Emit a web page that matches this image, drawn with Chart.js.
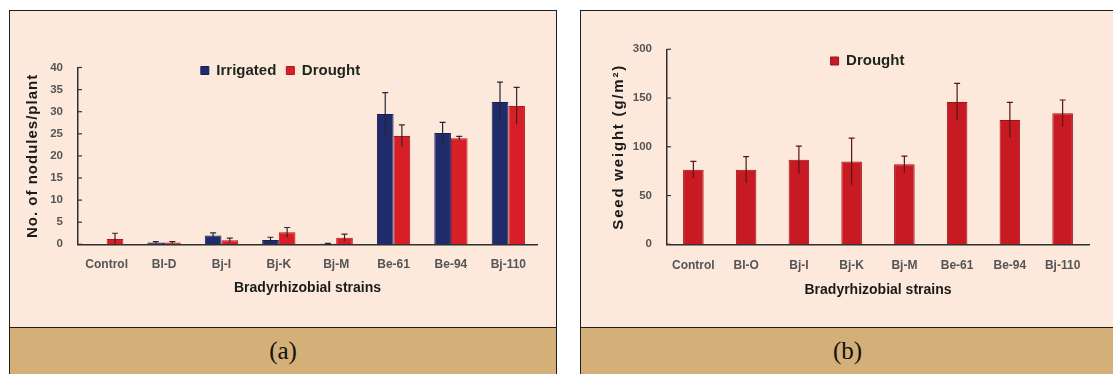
<!DOCTYPE html>
<html>
<head>
<meta charset="utf-8">
<script src="https://cdn.jsdelivr.net/npm/chart.js@4.4.1/dist/chart.umd.min.js"></script>
<style>
  html, body { margin: 0; padding: 0; background: #ffffff; width: 1113px; height: 374px; overflow: hidden; }
  .panel { position: absolute; box-sizing: border-box; background: #fde9dc; border: 1.5px solid #1e1e1e; }
  .band { position: absolute; box-sizing: border-box; background: #d4af78; border: 1.5px solid #1e1e1e;
          font-family: 'Liberation Serif', 'Times New Roman', serif; font-size: 25px; color: #111;
          text-align: center; line-height: 46px; }
  canvas { position: absolute; }
</style>
</head>
<body>
<div class="panel" style="left:9px;top:10px;width:548px;height:380px"></div>
<div class="band" style="left:9px;top:327px;width:548px;height:60px">(a)</div>
<div class="panel" style="left:580px;top:10px;width:535px;height:380px"></div>
<div class="band" style="left:580px;top:327px;width:535px;height:60px">(b)</div>
<canvas id="nodules" width="545" height="315" style="left:10px;top:12px;width:545px;height:315px"></canvas>
<canvas id="seed" width="531" height="315" style="left:582px;top:12px;width:531px;height:315px"></canvas>

<script>
// ---- data ----
const nodStrains = ['Control', 'BI-D', 'Bj-I', 'Bj-K', 'Bj-M', 'Be-61', 'Be-94', 'Bj-110'];
const irrigatedNodules = [0, 0.4, 2.0, 1.0, 0.1, 29.5, 25.2, 32.2];
const irrigatedNodulesErr = [0, 0.2, 0.6, 0.6, 0.1, 4.8, 2.4, 4.5];
const droughtNodules = [1.2, 0.4, 0.9, 2.7, 1.5, 24.5, 24.0, 31.3];
const droughtNodulesErr = [1.3, 0.2, 0.5, 1.1, 0.8, 2.5, 0.4, 4.2];
const nodTickLabels = ['0', '5', '10', '15', '20', '25', '30', '35', '40'];

const seedStrains = ['Control', 'BI-O', 'Bj-I', 'Bj-K', 'Bj-M', 'Be-61', 'Be-94', 'Bj-110'];
const droughtSeed = [76.5, 76.5, 86.7, 85, 82, 146, 127.5, 134.3];
const droughtSeedErr = [8.5, 13.5, 14, 24, 8.5, 19, 18, 13.7];
const seedTickLabels = ['0', '50', '100', '150', '300'];

const FONT = "'Liberation Sans', Arial, Helvetica, sans-serif";

// ---- plugins ----
// symmetric error bars with a cap at the upper end
const errorBars = {
  id: 'errorBars',
  afterDatasetsDraw(chart, args, opts) {
    const ctx = chart.ctx;
    const y = chart.scales.y;
    chart.data.datasets.forEach((ds, di) => {
      if (!ds.errors) return;
      const meta = chart.getDatasetMeta(di);
      meta.data.forEach((bar, i) => {
        const v = ds.data[i], e = ds.errors[i];
        if (!e) return;
        const top = y.getPixelForValue(v + e);
        const bot = y.getPixelForValue(Math.max(0, v - e));
        ctx.save();
        ctx.strokeStyle = ds.errorColor || '#333';
        ctx.lineWidth = 1.2;
        ctx.beginPath();
        ctx.moveTo(bar.x, bot);
        ctx.lineTo(bar.x, top);
        ctx.moveTo(bar.x - opts.cap, top);
        ctx.lineTo(bar.x + opts.cap, top);
        ctx.stroke();
        ctx.restore();
      });
    });
  }
};

// short tick marks pointing into the plot from the value axis
const innerTicks = {
  id: 'innerTicks',
  afterDraw(chart) {
    const s = chart.scales.y;
    const ctx = chart.ctx;
    ctx.save();
    ctx.strokeStyle = '#333';
    ctx.lineWidth = 1.2;
    s.ticks.forEach((t, i) => {
      const py = s.getPixelForTick(i);
      ctx.beginPath();
      ctx.moveTo(s.right, py);
      ctx.lineTo(s.right + 4, py);
      ctx.stroke();
    });
    ctx.restore();
  }
};

// place the legend just inside the top of the plot
const legendNudge = {
  id: 'legendNudge',
  afterLayout(chart, args, opts) {
    const l = chart.legend;
    if (!l) return;
    l.top += opts.dy; l.bottom += opts.dy;
    l.left += opts.dx; l.right += opts.dx;
  }
};

// tracked vertical axis title
const spacedTitle = {
  id: 'spacedTitle',
  beforeDraw(chart, args, opts) {
    const s = chart.scales.y;
    if (s._spaced) return;
    const orig = s.drawTitle;
    s.drawTitle = function () {
      const ctx = chart.ctx;
      ctx.save();
      ctx.letterSpacing = opts.spacing;
      orig.call(this);
      ctx.restore();
    };
    s._spaced = true;
  }
};

const axisBorder = { display: true, color: '#2e2e2e', width: 1.5 };
const tickFont = { family: FONT, size: 12, weight: 'bold' };
const valueTickFont = { family: FONT, size: 11.5, weight: 'bold' };
const tickColor = '#555';

// ---- (a) nodules per plant ----
new Chart(document.getElementById('nodules'), {
  type: 'bar',
  data: {
    labels: nodStrains,
    datasets: [
      { label: 'Irrigated', data: irrigatedNodules, errors: irrigatedNodulesErr,
        backgroundColor: '#1f2b6b', borderColor: '#161f52', borderWidth: 1, errorColor: '#24263a' },
      { label: 'Drought', data: droughtNodules, errors: droughtNodulesErr,
        backgroundColor: '#d81f27', borderColor: '#b0161d', borderWidth: 1, errorColor: '#3a2424' }
    ]
  },
  options: {
    responsive: false, devicePixelRatio: 1, animation: false,
    datasets: { bar: { categoryPercentage: 0.58, barPercentage: 1 } },
    layout: { padding: { left: 14, right: 18, top: 20.5, bottom: 0 } },
    plugins: {
      legend: { position: 'top', align: 'center',
        labels: { boxWidth: 8, boxHeight: 8, padding: 10, color: '#1c251c',
                  font: { family: FONT, size: 15, weight: 'bold' } } },
      tooltip: { enabled: false },
      legendNudge: { dx: 0, dy: 20.5 },
      errorBars: { cap: 3 },
      spacedTitle: { spacing: '1px' }
    },
    scales: {
      x: {
        grid: { display: false, drawTicks: false },
        border: axisBorder,
        ticks: { color: tickColor, font: tickFont, padding: 13.5, autoSkip: false, maxRotation: 0 },
        title: { display: true, text: 'Bradyrhizobial strains', color: '#1a1a1a',
                 font: { family: FONT, size: 14, weight: 'bold' }, padding: { top: 0, bottom: 30.6 } },
        afterFit(s) { s.height = 82.7; }
      },
      y: {
        min: 0, max: 40,
        grid: { display: false, drawTicks: false },
        border: axisBorder,
        ticks: { stepSize: 5, padding: 15, color: tickColor, font: valueTickFont,
                 callback: (v, i) => nodTickLabels[i] },
        title: { display: true, text: 'No. of nodules/plant', color: '#1a1a1a',
                 font: { family: FONT, size: 15, weight: 'bold' }, padding: 0 },
        afterFit(s) { s.width = 54; }
      }
    }
  },
  plugins: [errorBars, innerTicks, legendNudge, spacedTitle]
});

// ---- (b) seed weight ----
new Chart(document.getElementById('seed'), {
  type: 'bar',
  data: {
    labels: seedStrains,
    datasets: [
      { label: 'Drought', data: droughtSeed, errors: droughtSeedErr,
        backgroundColor: '#c81a22', borderColor: '#9c1218', borderWidth: 1, errorColor: '#5a1414' }
    ]
  },
  options: {
    responsive: false, devicePixelRatio: 1, animation: false,
    datasets: { bar: { categoryPercentage: 1, barPercentage: 0.39 } },
    layout: { padding: { left: 28, right: 24, top: 2.3, bottom: 0 } },
    plugins: {
      legend: { position: 'top', align: 'center',
        labels: { boxWidth: 8, boxHeight: 8, padding: 10, color: '#1c251c',
                  font: { family: FONT, size: 15, weight: 'bold' } } },
      tooltip: { enabled: false },
      legendNudge: { dx: 18, dy: 29.2 },
      errorBars: { cap: 3 },
      spacedTitle: { spacing: '1.8px' }
    },
    scales: {
      x: {
        grid: { display: false, drawTicks: false },
        border: axisBorder,
        ticks: { color: tickColor, font: tickFont, padding: 14.5, autoSkip: false, maxRotation: 0 },
        title: { display: true, text: 'Bradyrhizobial strains', color: '#1a1a1a',
                 font: { family: FONT, size: 14, weight: 'bold' }, padding: { top: 0, bottom: 28.6 } },
        afterFit(s) { s.height = 82.7; }
      },
      y: {
        min: 0, max: 200,
        grid: { display: false, drawTicks: false },
        border: axisBorder,
        ticks: { stepSize: 50, padding: 15, color: tickColor, font: valueTickFont,
                 callback: (v, i) => seedTickLabels[i] },
        title: { display: true, text: 'Seed weight (g/m²)', color: '#1a1a1a',
                 font: { family: FONT, size: 15, weight: 'bold' }, padding: 0 },
        afterFit(s) { s.width = 57; }
      }
    }
  },
  plugins: [errorBars, innerTicks, legendNudge, spacedTitle]
});
</script>
</body>
</html>
